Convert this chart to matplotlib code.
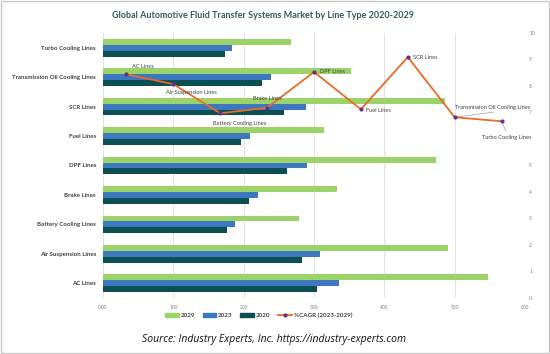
import matplotlib
matplotlib.use("Agg")
import matplotlib.pyplot as plt
from matplotlib.patches import Rectangle, Patch
from matplotlib.lines import Line2D
import numpy as np

plt.rcParams['font.family'] = ['Lato', 'DejaVu Sans']

# bar chart categories (bottom to top)
categories = ["AC Lines", "Air Suspension Lines", "Battery Cooling Lines", "Brake Lines",
              "DPF Lines", "Fuel Lines", "SCR Lines", "Transmission Oil Cooling Lines",
              "Turbo Cooling Lines"]
v2029 = [547, 491, 279, 333, 473, 314, 486, 353, 268]
v2023 = [336, 309, 187, 220, 290, 209, 289, 239, 183]
v2020 = [304, 283, 177, 207, 261, 196, 257, 226, 174]

# CAGR line (same category order, drawn left to right)
cagr = [8.44, 8.07, 6.97, 7.18, 8.53, 7.12, 9.09, 6.82, 6.67]

x_ticks = [0, 100, 200, 300, 400, 500, 600]
x_tick_labels = ["0.00", "100", "200", "300", "400", "500", "600"]
r_ticks = [0, 1, 2, 3, 4, 5, 7, 8, 9, 10]  # 6 is hidden behind a label in the original

c2029 = "#9cd369"
c2023 = "#3b78c0"
c2020 = "#0b4f52"
c_line = "#ec6a24"
c_mark = "#6a2c8e"
txt = "#404040"

fig = plt.figure(figsize=(5.5, 3.54), dpi=100)
fig.patches.append(Rectangle((0.002, 0.003), 0.996, 0.994, transform=fig.transFigure,
                             fill=False, ec="#c8c8c8", lw=1.0))

ax = fig.add_axes([0.1873, 0.1582, 0.7672, 0.7486])
y = np.arange(len(categories))
h = 0.2
ax.barh(y + h, v2029, height=h, color=c2029, label="2029")
ax.barh(y, v2023, height=h, color=c2023, label="2023")
ax.barh(y - h, v2020, height=h, color=c2020, label="2020")
ax.set_ylim(-0.5, len(categories) - 0.5)
ax.set_xlim(0, 600)
ax.set_yticks(y)
ax.set_yticklabels(categories, fontsize=4.4, fontweight="bold", color=txt)
ax.set_xticks(x_ticks)
ax.set_xticklabels(x_tick_labels, fontsize=3.5, color="#808080")
ax.tick_params(length=0, pad=5)
ax.grid(axis="x", color="#e3e3e3", lw=0.8)
ax.set_axisbelow(True)
for s in ax.spines.values():
    s.set_visible(False)

# secondary axes for CAGR line
rax = ax.twinx()
ax2 = rax.twiny()
xi = np.arange(len(categories))
ax2.plot(xi, cagr, color=c_line, lw=1.3, marker="o", markersize=2,
         markerfacecolor=c_mark, markeredgecolor=c_mark, zorder=5)
ax2.set_xlim(-0.5, len(categories) - 0.5)
ax2.set_xticks([])
for s in ax2.spines.values():
    s.set_visible(False)
ax2.tick_params(length=0)
rax.set_ylim(0, 10)
rax.set_yticks(r_ticks)
rax.set_yticklabels([str(i) for i in r_ticks], fontsize=3.5, color="#808080")
rax.tick_params(length=0, pad=3)
for s in rax.spines.values():
    s.set_visible(False)
ax2.set_ylim(0, 10)

# data labels (offsets in points)
offsets = [(4, 5.5, "left"), (13, -6, "center"), (14, -7, "center"), (0, 7, "center"),
           (4, 0, "left"), (4, -1, "left"), (4, 0, "left"), (0, 7, "left"), (4, -12, "center")]
for i, (dx, dy, ha) in enumerate(offsets):
    ax2.annotate(categories[i], (xi[i], cagr[i]), xytext=(dx, dy), textcoords="offset points",
                 fontsize=4.1, color=txt, ha=ha, va="center", zorder=6)
# leader lines
ax2.annotate("", (xi[7], cagr[7]), xytext=(30, 4), textcoords="offset points",
             arrowprops=dict(arrowstyle="-", color="#a0a0a0", lw=0.5))
ax2.annotate("", (xi[8], cagr[8]), xytext=(4, -9), textcoords="offset points",
             arrowprops=dict(arrowstyle="-", color="#a0a0a0", lw=0.5))

fig.text(0.478, 0.955, "Global Automotive Fluid Transfer Systems Market by Line Type 2020-2029",
         ha="center", va="center", fontsize=6.5, fontweight="bold", color="#2f5a5e")

handles = [Patch(color=c2029), Patch(color=c2023), Patch(color=c2020),
           Line2D([0], [0], color=c_line, lw=1.3, marker="o", markersize=2,
                  markerfacecolor=c_mark, markeredgecolor=c_mark)]
leg = fig.legend(handles, ["2029", "2023", "2020", "%CAGR (2023-2029)"], loc="center",
                 bbox_to_anchor=(0.47, 0.108), ncol=4, frameon=False, fontsize=4.5,
                 handlelength=2.2, handleheight=0.6, columnspacing=1.2, handletextpad=0.3)
for t in leg.get_texts():
    t.set_color(txt)
    t.set_fontweight("bold")

fig.text(0.499, 0.04, "Source: Industry Experts, Inc. https://industry-experts.com",
         ha="center", va="center", fontsize=7.5, style="italic", color="#111111",
         family=["Open Sans", "DejaVu Sans"])

fig.savefig("out.png", dpi=100)
